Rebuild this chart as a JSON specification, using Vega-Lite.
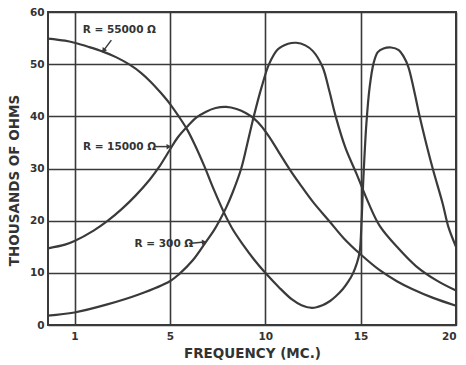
{
  "$schema": "https://vega.github.io/schema/vega-lite/v6.json",
  "autosize": "none",
  "width": 408,
  "height": 313,
  "padding": {"left": 48, "top": 12, "right": 10, "bottom": 40},
  "background": "white",
  "config": {
    "view": {"stroke": "#3a3a3a", "strokeWidth": 2},
    "axis": {
      "labelFont": "DejaVu Sans", "labelFontWeight": "bold", "labelFontSize": 10.5, "labelColor": "#333",
      "titleFont": "DejaVu Sans", "titleFontWeight": "bold", "titleFontSize": 13.5, "titleColor": "#333",
      "gridColor": "#3a3a3a", "gridOpacity": 1, "gridWidth": 1.6, "ticks": false, "domain": false
    }
  },
  "datasets": {
    "curves": [
      {"R": "55000", "f": -1.39, "kohm": 54.9}, {"R": "55000", "f": -0.5, "kohm": 54.5}, {"R": "55000", "f": 0, "kohm": 54.1},
      {"R": "55000", "f": 0.75, "kohm": 53.3}, {"R": "55000", "f": 1.49, "kohm": 52.4}, {"R": "55000", "f": 2.2, "kohm": 51.3},
      {"R": "55000", "f": 2.89, "kohm": 49.9}, {"R": "55000", "f": 3.5, "kohm": 48.3}, {"R": "55000", "f": 4.0, "kohm": 46.6},
      {"R": "55000", "f": 4.5, "kohm": 44.6}, {"R": "55000", "f": 5.0, "kohm": 42.4}, {"R": "55000", "f": 5.5, "kohm": 39.8},
      {"R": "55000", "f": 5.9, "kohm": 37.5}, {"R": "55000", "f": 6.3, "kohm": 34.6}, {"R": "55000", "f": 6.8, "kohm": 30.5},
      {"R": "55000", "f": 7.3, "kohm": 26.0}, {"R": "55000", "f": 7.87, "kohm": 21.3}, {"R": "55000", "f": 8.3, "kohm": 18.3},
      {"R": "55000", "f": 8.83, "kohm": 15.4}, {"R": "55000", "f": 9.4, "kohm": 12.6}, {"R": "55000", "f": 10.0, "kohm": 10.0},
      {"R": "55000", "f": 10.7, "kohm": 7.3}, {"R": "55000", "f": 11.4, "kohm": 4.9}, {"R": "55000", "f": 11.9, "kohm": 3.8},
      {"R": "55000", "f": 12.45, "kohm": 3.3}, {"R": "55000", "f": 13.0, "kohm": 3.8}, {"R": "55000", "f": 13.4, "kohm": 4.6},
      {"R": "55000", "f": 13.7, "kohm": 5.5}, {"R": "55000", "f": 14.07, "kohm": 6.9}, {"R": "55000", "f": 14.35, "kohm": 8.3},
      {"R": "55000", "f": 14.6, "kohm": 9.9}, {"R": "55000", "f": 14.8, "kohm": 11.8}, {"R": "55000", "f": 14.95, "kohm": 14.0},
      {"R": "55000", "f": 15.05, "kohm": 20.0}, {"R": "55000", "f": 15.13, "kohm": 27.0}, {"R": "55000", "f": 15.3, "kohm": 38.5},
      {"R": "55000", "f": 15.47, "kohm": 45.5}, {"R": "55000", "f": 15.68, "kohm": 50.2}, {"R": "55000", "f": 15.9, "kohm": 52.3},
      {"R": "55000", "f": 16.2, "kohm": 53.0}, {"R": "55000", "f": 16.6, "kohm": 53.2}, {"R": "55000", "f": 17.0, "kohm": 52.7},
      {"R": "55000", "f": 17.25, "kohm": 51.5}, {"R": "55000", "f": 17.5, "kohm": 49.5}, {"R": "55000", "f": 17.8, "kohm": 45.0},
      {"R": "55000", "f": 18.1, "kohm": 39.9}, {"R": "55000", "f": 18.45, "kohm": 34.6}, {"R": "55000", "f": 18.8, "kohm": 29.7},
      {"R": "55000", "f": 19.3, "kohm": 23.3}, {"R": "55000", "f": 19.6, "kohm": 18.8}, {"R": "55000", "f": 20.0, "kohm": 15.0},

      {"R": "15000", "f": -1.39, "kohm": 14.7}, {"R": "15000", "f": -0.5, "kohm": 15.4}, {"R": "15000", "f": 0, "kohm": 16.1},
      {"R": "15000", "f": 1.0, "kohm": 18.1}, {"R": "15000", "f": 1.75, "kohm": 20.0}, {"R": "15000", "f": 2.5, "kohm": 22.3},
      {"R": "15000", "f": 3.2, "kohm": 24.8}, {"R": "15000", "f": 3.95, "kohm": 27.9}, {"R": "15000", "f": 4.4, "kohm": 30.1},
      {"R": "15000", "f": 5.0, "kohm": 33.6}, {"R": "15000", "f": 5.4, "kohm": 35.9}, {"R": "15000", "f": 5.9, "kohm": 38.0},
      {"R": "15000", "f": 6.4, "kohm": 39.8}, {"R": "15000", "f": 6.9, "kohm": 40.9}, {"R": "15000", "f": 7.4, "kohm": 41.6},
      {"R": "15000", "f": 7.95, "kohm": 41.8}, {"R": "15000", "f": 8.5, "kohm": 41.4}, {"R": "15000", "f": 9.0, "kohm": 40.6},
      {"R": "15000", "f": 9.4, "kohm": 39.6}, {"R": "15000", "f": 9.8, "kohm": 38.1}, {"R": "15000", "f": 10.2, "kohm": 36.1},
      {"R": "15000", "f": 10.7, "kohm": 33.2}, {"R": "15000", "f": 11.27, "kohm": 29.9}, {"R": "15000", "f": 11.8, "kohm": 27.1},
      {"R": "15000", "f": 12.5, "kohm": 23.6}, {"R": "15000", "f": 13.36, "kohm": 19.9}, {"R": "15000", "f": 14.1, "kohm": 16.7},
      {"R": "15000", "f": 14.95, "kohm": 13.7}, {"R": "15000", "f": 16.0, "kohm": 10.5}, {"R": "15000", "f": 16.9, "kohm": 8.4},
      {"R": "15000", "f": 17.7, "kohm": 6.9}, {"R": "15000", "f": 18.8, "kohm": 5.2}, {"R": "15000", "f": 20.0, "kohm": 3.7},

      {"R": "300", "f": -1.39, "kohm": 1.8}, {"R": "300", "f": 0, "kohm": 2.4}, {"R": "300", "f": 1.67, "kohm": 3.9},
      {"R": "300", "f": 3.4, "kohm": 5.9}, {"R": "300", "f": 5.0, "kohm": 8.4}, {"R": "300", "f": 5.5, "kohm": 9.8},
      {"R": "300", "f": 6.2, "kohm": 12.4}, {"R": "300", "f": 6.9, "kohm": 16.0}, {"R": "300", "f": 7.3, "kohm": 18.1},
      {"R": "300", "f": 7.6, "kohm": 20.0}, {"R": "300", "f": 7.95, "kohm": 22.5}, {"R": "300", "f": 8.3, "kohm": 25.5},
      {"R": "300", "f": 8.74, "kohm": 30.0}, {"R": "300", "f": 9.05, "kohm": 34.6}, {"R": "300", "f": 9.4, "kohm": 40.0},
      {"R": "300", "f": 9.8, "kohm": 45.5}, {"R": "300", "f": 10.2, "kohm": 50.0}, {"R": "300", "f": 10.65, "kohm": 52.8},
      {"R": "300", "f": 11.2, "kohm": 53.9}, {"R": "300", "f": 11.62, "kohm": 54.1}, {"R": "300", "f": 12.1, "kohm": 53.6},
      {"R": "300", "f": 12.5, "kohm": 52.5}, {"R": "300", "f": 13.0, "kohm": 49.5}, {"R": "300", "f": 13.35, "kohm": 45.0},
      {"R": "300", "f": 13.7, "kohm": 39.9}, {"R": "300", "f": 14.2, "kohm": 34.0}, {"R": "300", "f": 14.77, "kohm": 29.1},
      {"R": "300", "f": 15.4, "kohm": 23.5}, {"R": "300", "f": 16.0, "kohm": 19.0}, {"R": "300", "f": 17.0, "kohm": 14.6},
      {"R": "300", "f": 17.9, "kohm": 11.3}, {"R": "300", "f": 19.0, "kohm": 8.5}, {"R": "300", "f": 20.0, "kohm": 6.6}
    ],
    "labels": [
      {"R": "55000", "f": 0.43, "kohm": 56.5, "text": "R = 55000 Ω"},
      {"R": "15000", "f": 0.44, "kohm": 34.2, "text": "R = 15000 Ω"},
      {"R": "300", "f": 3.15, "kohm": 15.5, "text": "R = 300 Ω"}
    ],
    "arrows": [
      {"R": "55000", "f": 1.93, "kohm": 54.6, "f2": 1.52, "kohm2": 52.6},
      {"R": "15000", "f": 4.2, "kohm": 34.2, "f2": 4.95, "kohm2": 34.2},
      {"R": "300", "f": 6.0, "kohm": 15.6, "f2": 6.8, "kohm2": 15.9}
    ]
  },
  "layer": [
    {
      "data": {"name": "curves"},
      "mark": {"type": "line", "interpolate": "catmull-rom", "color": "#3a3a3a", "strokeWidth": 2.2},
      "encoding": {
        "x": {"field": "f", "type": "quantitative",
              "scale": {"domain": [-1.39, 20], "nice": false, "zero": false},
              "axis": {"values": [0, 5, 10, 15, 20], "labelExpr": "datum.value === 0 ? '1' : datum.label",
                       "grid": true, "title": "FREQUENCY (MC.)", "labelPadding": 6, "titlePadding": 5}},
        "y": {"field": "kohm", "type": "quantitative",
              "scale": {"domain": [0, 60], "nice": false},
              "axis": {"values": [0, 10, 20, 30, 40, 50, 60], "grid": true, "title": "THOUSANDS OF OHMS",
                       "labelPadding": 4, "titlePadding": 8, "titleY": 168}},
        "detail": {"field": "R"}
      }
    },
    {
      "data": {"name": "labels"},
      "mark": {"type": "text", "align": "left", "baseline": "middle", "font": "DejaVu Sans", "fontWeight": "bold", "fontSize": 10.5, "color": "#333"},
      "encoding": {
        "x": {"field": "f", "type": "quantitative"},
        "y": {"field": "kohm", "type": "quantitative"},
        "text": {"field": "text"}
      }
    },
    {
      "data": {"name": "arrows"},
      "mark": {"type": "rule", "color": "#3a3a3a", "strokeWidth": 1.5},
      "encoding": {
        "x": {"field": "f", "type": "quantitative"},
        "y": {"field": "kohm", "type": "quantitative"},
        "x2": {"field": "f2"},
        "y2": {"field": "kohm2"}
      }
    },
    {
      "data": {"name": "arrows"},
      "transform": [{"filter": "datum.R === '55000'"}],
      "mark": {"type": "point", "shape": "triangle-up", "filled": true, "color": "#3a3a3a", "size": 30, "angle": 216, "opacity": 1},
      "encoding": {"x": {"field": "f2", "type": "quantitative"}, "y": {"field": "kohm2", "type": "quantitative"}}
    },
    {
      "data": {"name": "arrows"},
      "transform": [{"filter": "datum.R !== '55000'"}],
      "mark": {"type": "point", "shape": "triangle-up", "filled": true, "color": "#3a3a3a", "size": 30, "angle": 88, "opacity": 1},
      "encoding": {"x": {"field": "f2", "type": "quantitative"}, "y": {"field": "kohm2", "type": "quantitative"}}
    }
  ]
}
